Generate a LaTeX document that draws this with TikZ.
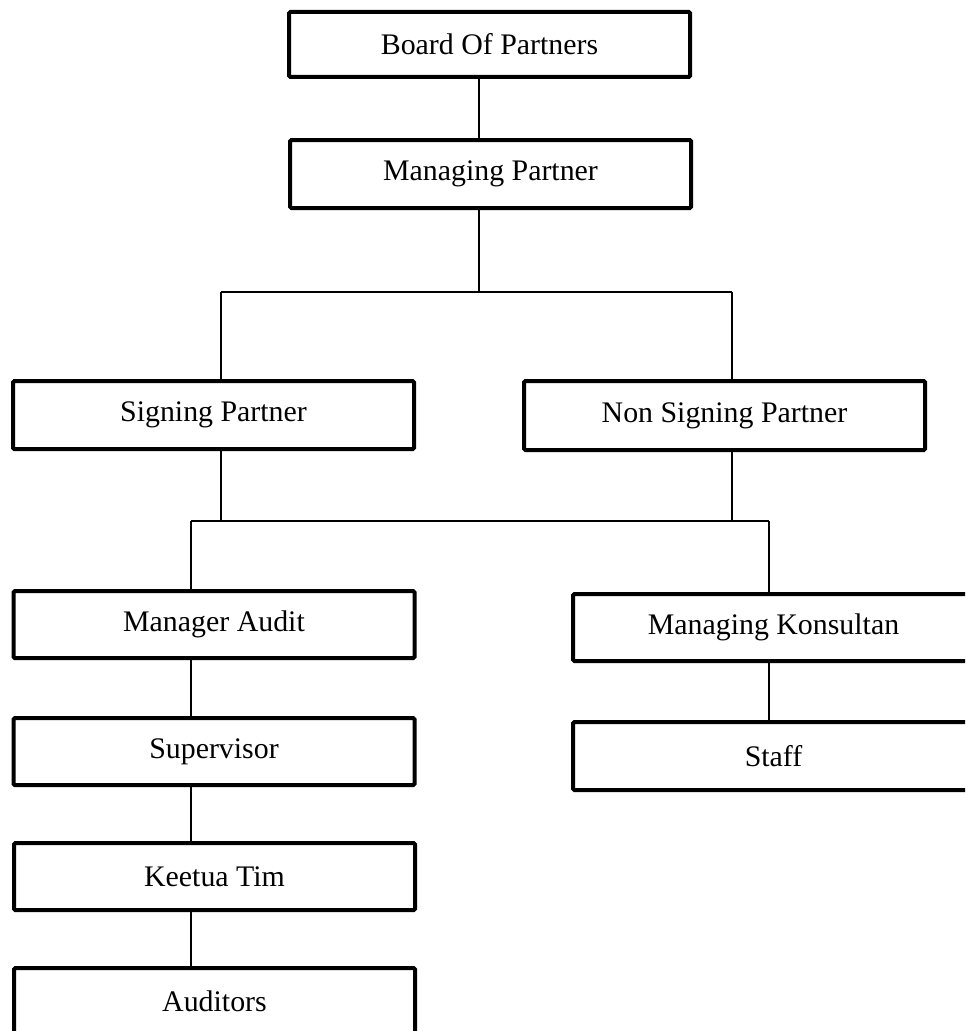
\documentclass[tikz,border=0pt]{standalone}
\usepackage{fontspec}
\setmainfont{Liberation Serif}
\begin{document}
\begin{tikzpicture}[x=0.75pt,y=-0.75pt,
  orgbox/.style={draw=black,line width=3pt,rounded corners=1pt,fill=white,
    minimum width=401*0.75pt,inner sep=0pt,
    font=\fontsize{22.4}{26}\selectfont},
  link/.style={draw=black,line width=1pt}]
\clip (0,0) rectangle (965,1031);
\fill[white] (0,0) rectangle (965,1031);
% boxes
\node[orgbox,minimum height=65*0.75pt] (board) at (489.5,44.5) {Board Of Partners};
\node[orgbox,minimum height=68*0.75pt] (mp) at (490.5,174) {Managing Partner};
\node[orgbox,minimum height=68*0.75pt] (sp) at (213.5,415) {Signing Partner};
\node[orgbox,minimum height=69*0.75pt] (nsp) at (724.5,415.5) {Non Signing Partner};
\node[orgbox,minimum height=67*0.75pt] (ma) at (214,624.5) {Manager Audit};
\node[orgbox,minimum height=67*0.75pt] (sup) at (214,751.5) {Supervisor};
\node[orgbox,minimum height=67*0.75pt] (kt) at (214.5,876.5) {Keetua Tim};
\node[orgbox,minimum height=67*0.75pt] (aud) at (214.5,1001.5) {Auditors};
\node[orgbox,minimum height=67*0.75pt] (mk) at (773.5,627.5) {Managing Konsultan};
\node[orgbox,minimum height=68*0.75pt] (st) at (773.5,756) {Staff};
% guide coordinates
\coordinate (xtop) at (479,0);
\coordinate (xl1) at (221,0);
\coordinate (xr1) at (732,0);
\coordinate (xl2) at (191,0);
\coordinate (xr2) at (769,0);
\coordinate (y1) at (0,292);
\coordinate (y2) at (0,521);
% connectors
\draw[link] (board.south -| xtop) -- (mp.north -| xtop);
\draw[link] (mp.south -| xtop) -- (xtop |- y1);
\draw[link] (xl1 |- y1) -- (xr1 |- y1);
\draw[link] (xl1 |- y1) -- (sp.north -| xl1);
\draw[link] (xr1 |- y1) -- (nsp.north -| xr1);
\draw[link] (sp.south -| xl1) -- (xl1 |- y2);
\draw[link] (nsp.south -| xr1) -- (xr1 |- y2);
\draw[link] (xl2 |- y2) -- (xr2 |- y2);
\draw[link] (xl2 |- y2) -- (ma.north -| xl2);
\draw[link] (xr2 |- y2) -- (mk.north -| xr2);
\draw[link] (ma.south -| xl2) -- (sup.north -| xl2);
\draw[link] (sup.south -| xl2) -- (kt.north -| xl2);
\draw[link] (kt.south -| xl2) -- (aud.north -| xl2);
\draw[link] (mk.south -| xr2) -- (st.north -| xr2);
\end{tikzpicture}
\end{document}
